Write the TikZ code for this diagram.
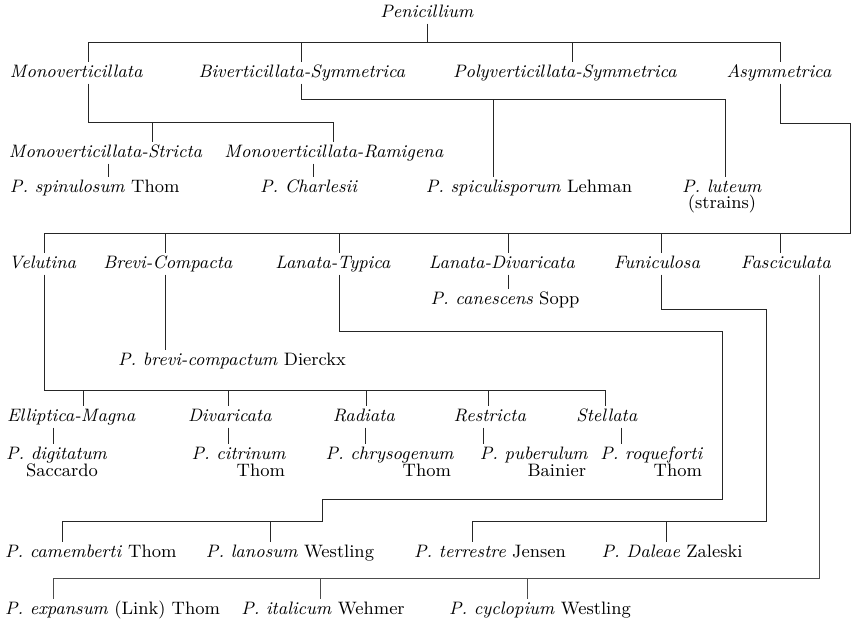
\documentclass[tikz,border=0pt]{standalone}
\usepackage{fontspec}
\begin{document}
\begin{tikzpicture}[x=0.5pt,y=-0.5pt,
  lab/.style={font=\fontsize{9}{11}\selectfont, inner sep=0pt, outer sep=1pt,
              text height=6.6pt, text depth=2.3pt, anchor=base},
  labr/.style={lab, anchor=base east},
  labl/.style={lab, anchor=base west},
  ln/.style={draw=black!85, line width=0.5pt},
  faint/.style={draw=black!70, line width=0.45pt}]
\useasboundingbox (0,0) rectangle (852,618);
% ---- labels
\node[lab] (pen) at (427,17) {\textit{Penicillium}};
\node[labl] (mono) at (8,77) {\textit{Monoverticillata}};
\node[lab] (bivs) at (302,77) {\textit{Biverticillata-Symmetrica}};
\node[lab] (polys) at (565,77) {\textit{Polyverticillata-Symmetrica}};
\node[lab] (asym) at (779,77) {\textit{Asymmetrica}};
\node[labl] (mstr) at (7,157) {\textit{Monoverticillata-Stricta}};
\node[lab] (mram) at (334,157) {\textit{Monoverticillata-Ramigena}};
\node[labl] (spin) at (8,192) {\textit{P. spinulosum} Thom};
\node[lab] (charl) at (309,192) {\textit{P. Charlesii}};
\node[lab] (spic) at (529,192) {\textit{P. spiculisporum} Lehman};
\node[lab] (lut) at (722,192) {\textit{P. luteum}};
\node[lab, text height=5.5pt] (lut2) at (722,208) {(strains)};
\node[labl] (velu) at (7,268) {\textit{Velutina}};
\node[lab] (brevi) at (168,268) {\textit{Brevi-Compacta}};
\node[lab] (lantyp) at (333,268) {\textit{Lanata-Typica}};
\node[lab] (landiv) at (502,268) {\textit{Lanata-Divaricata}};
\node[lab] (funic) at (657,268) {\textit{Funiculosa}};
\node[lab] (fasc) at (786,268) {\textit{Fasciculata}};
\node[lab] (canes) at (505,304) {\textit{P. canescens} Sopp};
\node[lab] (brevic) at (232,365) {\textit{P. brevi-compactum} Dierckx};
\node[labl] (ellip) at (5,421) {\textit{Elliptica-Magna}};
\node[divar/.style={}, lab] (divar) at (230,421) {\textit{Divaricata}};
\node[lab] (radi) at (364,421) {\textit{Radiata}};
\node[lab] (restr) at (490,421) {\textit{Restricta}};
\node[lab] (stell) at (607,421) {\textit{Stellata}};
\node[labl] (digit) at (4,459) {\textit{P. digitatum}};
\node[labr] (sacc) at (100,476) {Saccardo};
\node[labr] (citr) at (288,459) {\textit{P. citrinum}};
\node[labr] (thoma) at (287,476) {Thom};
\node[labr] (chrys) at (456,459) {\textit{P. chrysogenum}};
\node[labr] (thomb) at (453,476) {Thom};
\node[labr] (pub) at (590,459) {\textit{P. puberulum}};
\node[labr] (bain) at (588,476) {Bainier};
\node[labr] (roq) at (705,459) {\textit{P. roqueforti}};
\node[labr] (thomc) at (704,476) {Thom};
\node[labl] (camem) at (3,557) {\textit{P. camemberti} Thom};
\node[lab] (lanos) at (290,557) {\textit{P. lanosum} Westling};
\node[lab] (terr) at (490,557) {\textit{P. terrestre} Jensen};
\node[lab] (dale) at (672,557) {\textit{P. Daleae} Zaleski};
\node[labl] (expan) at (3,614) {\textit{P. expansum} (Link) Thom};
\node[lab] (ital) at (323,614) {\textit{P. italicum} Wehmer};
\node[lab] (cyclo) at (540,614) {\textit{P. cyclopium} Westling};
% ---- junction points
\coordinate (j0) at (427,42);
% ---- connectors
\draw[ln] (pen.south) -- (j0);
\draw[ln] (mono.north -| 88,0) -- (88,42) -- (780,42) -- (asym.north -| 780,0);
\draw[ln] (bivs.north -| 301,0) -- (301,42);
\draw[ln] (polys.north -| 572,0) -- (572,42);
% Monoverticillata
\draw[ln] (mono.south -| 88,0) -- (88,122) -- (333,122) -- (mram.north -| 333,0);
\draw[ln] (mstr.north -| 152,0) -- (152,122);
\draw[ln] (mstr.south -| 108,0) -- (spin.north -| 108,0);
\draw[ln] (mram.south -| 313,0) -- (charl.north -| 313,0);
% Biverticillata
\draw[ln] (bivs.south -| 301,0) -- (301,99) -- (725,99) -- (lut.north -| 725,0);
\draw[ln] (spic.north -| 493,0) -- (493,99);
% Asymmetrica
\draw[ln] (asym.south -| 780,0) -- (780,123) -- (850,123) -- (850,233) -- (44,233) -- (velu.north -| 44,0);
\draw[ln] (brevi.north -| 165,0) -- (165,233);
\draw[ln] (lantyp.north -| 339,0) -- (339,233);
\draw[ln] (landiv.north -| 508,0) -- (508,233);
\draw[ln] (funic.north -| 661,0) -- (661,233);
\draw[ln] (fasc.north -| 780,0) -- (780,233);
% Velutina
\draw[ln] (velu.south -| 44,0) -- (44,390) -- (605,390) -- (stell.north -| 605,0);
\draw[ln] (ellip.north -| 83,0) -- (83,390);
\draw[ln] (divar.north -| 228,0) -- (228,390);
\draw[ln] (radi.north -| 366,0) -- (366,390);
\draw[ln] (restr.north -| 488,0) -- (488,390);
\draw[ln] (ellip.south -| 53,0) -- (digit.north -| 53,0);
\draw[ln] (divar.south -| 228,0) -- (citr.north -| 228,0);
\draw[ln] (radi.south -| 365,0) -- (chrys.north -| 365,0);
\draw[ln] (restr.south -| 483,0) -- (pub.north -| 483,0);
\draw[ln] (stell.south -| 621,0) -- (roq.north -| 621,0);
% Brevi-Compacta
\draw[ln] (brevi.south -| 165,0) -- (brevic.north -| 165,0);
% Lanata-Typica
\draw[ln] (lantyp.south -| 339,0) -- (339,331) -- (722,331) -- (722,499) -- (322,499) -- (322,521) -- (62,521) -- (camem.north -| 62,0);
\draw[ln] (lanos.north -| 270,0) -- (270,521);
% Lanata-Divaricata
\draw[ln] (landiv.south -| 508,0) -- (canes.north -| 508,0);
% Funiculosa
\draw[ln] (funic.south -| 661,0) -- (661,309) -- (766,309) -- (766,521) -- (472,521) -- (terr.north -| 472,0);
\draw[ln] (dale.north -| 666,0) -- (666,521);
% Fasciculata
\draw[faint] (fasc.south -| 819,0) -- (819,578) -- (53,578) -- (expan.north -| 53,0);
\draw[faint] (ital.north -| 320,0) -- (320,578);
\draw[faint] (cyclo.north -| 527,0) -- (527,578);
\end{tikzpicture}
\end{document}
